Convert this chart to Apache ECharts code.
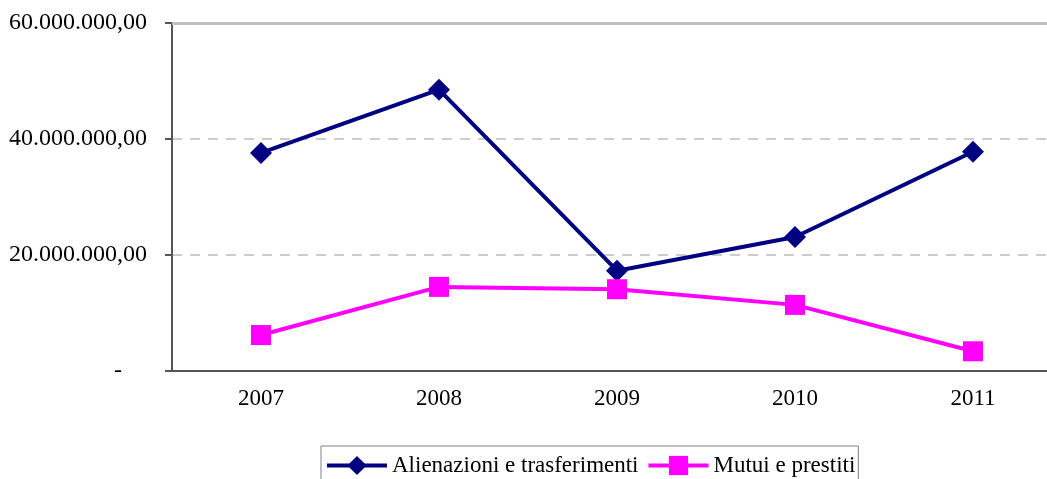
<!DOCTYPE html>
<html>
<head>
<meta charset="utf-8">
<script src="https://cdn.jsdelivr.net/npm/echarts@6/dist/echarts.min.js"></script>
<style>
  html, body { margin: 0; padding: 0; background: #fff; overflow: hidden; }
  #main { width: 1062px; height: 479px; }
</style>
</head>
<body>
<div id="main"></div>
<script>
// dati
const anni = ['2007', '2008', '2009', '2010', '2011'];
const alienazioni = [37600000, 48500000, 17300000, 23100000, 37800000];
const mutui = [6200000, 14500000, 14100000, 11400000, 3400000];
const yTicks = [0, 20000000, 40000000, 60000000];

const serif = '"Liberation Serif", "DejaVu Serif", serif';

function formatEuro(v) {
    if (v === 0) return '{dash|-}';
    let s = Math.round(v).toString().replace(/\B(?=(\d{3})+(?!\d))/g, '.');
    return s + ',00';
}

const option = {
    animation: false,
    grid: {
        left: 172,
        top: 23,
        right: 0,
        bottom: 108
    },
    legend: {
        data: ['Alienazioni e trasferimenti', 'Mutui e prestiti'],
        left: 321,
        top: 446,
        padding: [8, 3, 12, 4],
        itemGap: 8,
        itemWidth: 60,
        itemHeight: 24,
        borderColor: '#808080',
        borderWidth: 1,
        lineStyle: { width: 4 },
        textStyle: {
            fontFamily: serif,
            fontSize: 23,
            color: '#000'
        }
    },
    xAxis: {
        type: 'category',
        data: anni,
        boundaryGap: true,
        axisLine: { lineStyle: { color: '#555', width: 2 } },
        axisTick: { alignWithLabel: false, length: 7, lineStyle: { color: '#555', width: 2 } },
        axisLabel: {
            margin: 16,
            fontFamily: serif,
            fontSize: 23,
            color: '#000'
        }
    },
    yAxis: {
        type: 'value',
        min: yTicks[0],
        max: yTicks[yTicks.length - 1],
        interval: yTicks[1] - yTicks[0],
        axisLine: { show: true, lineStyle: { color: '#555', width: 2 } },
        axisTick: { show: true, length: 7, lineStyle: { color: '#555', width: 2 } },
        axisLabel: {
            margin: 25,
            fontFamily: serif,
            fontSize: 24,
            color: '#000',
            formatter: formatEuro,
            rich: {
                dash: { fontFamily: serif, fontSize: 24, color: '#000', padding: [0, 25, 0, 0] }
            }
        },
        splitLine: {
            show: true,
            lineStyle: { color: '#cccccc', type: [10, 8], width: 2 }
        }
    },
    series: [
        {
            name: 'Alienazioni e trasferimenti',
            type: 'line',
            data: alienazioni,
            symbol: 'diamond',
            symbolSize: 22,
            itemStyle: { color: '#000080' },
            lineStyle: { color: '#000080', width: 4 },
            markLine: {
                silent: true,
                symbol: 'none',
                label: { show: false },
                lineStyle: { color: '#c0c0c0', type: 'solid', width: 3 },
                data: [{ yAxis: yTicks[yTicks.length - 1] }]
            }
        },
        {
            name: 'Mutui e prestiti',
            type: 'line',
            data: mutui,
            symbol: 'rect',
            symbolSize: 20,
            itemStyle: { color: '#ff00ff' },
            lineStyle: { color: '#ff00ff', width: 4 }
        }
    ]
};

let plot = echarts.init(document.querySelector('#main'));
plot.setOption(option);
</script>
</body>
</html>
